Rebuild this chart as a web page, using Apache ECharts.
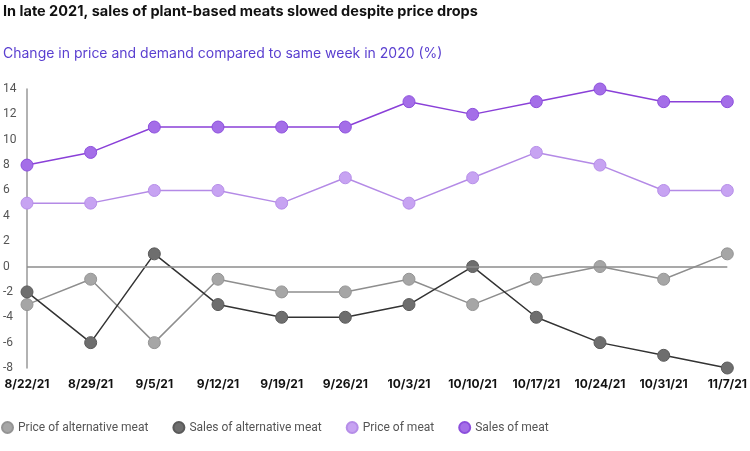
<!DOCTYPE html>
<html>
<head>
<meta charset="utf-8">
<script src="https://cdn.jsdelivr.net/npm/echarts@6/dist/echarts.min.js"></script>
<style>
  html, body { margin: 0; padding: 0; background: #fff; }
  #main { width: 750px; height: 451px; }
</style>
</head>
<body>
<div id="main"></div>
<script>
var weeks = ['8/22/21', '8/29/21', '9/5/21', '9/12/21', '9/19/21', '9/26/21', '10/3/21', '10/10/21', '10/17/21', '10/24/21', '10/31/21', '11/7/21'];
var priceAlt = [-3, -1, -6, -1, -2, -2, -1, -3, -1, 0, -1, 1];
var salesAlt = [-2, -6, 1, -3, -4, -4, -3, 0, -4, -6, -7, -8];
var priceMeat = [5, 5, 6, 6, 5, 7, 5, 7, 9, 8, 6, 6];
var salesMeat = [8, 9, 11, 11, 11, 11, 13, 12, 13, 14, 13, 13];

var myChart = echarts.init(document.getElementById('main'));

// one line series per measure
function line(name, data, fill, border, stroke) {
    return {
        name: name,
        type: 'line',
        data: data,
        symbol: 'circle',
        symbolSize: 12,
        itemStyle: { color: fill, borderColor: border, borderWidth: 1 },
        lineStyle: { color: stroke, width: 1.5 },
        emphasis: { disabled: true }
    };
}

var series = [
    line('Price of alternative meat', priceAlt, '#a6a6a6', '#949494', '#8e8e8e'),
    line('Sales of alternative meat', salesAlt, '#6e6e6e', '#5a5a5a', '#333333'),
    line('Price of meat', priceMeat, '#c7a3f2', '#b68ee8', '#b48ae6'),
    line('Sales of meat', salesMeat, '#a46ee8', '#8c4fdc', '#8a40d8')
];
// zero line
series[0].markLine = {
    silent: true,
    symbol: 'none',
    label: { show: false },
    lineStyle: { color: '#8c8c8c', type: 'solid', width: 1.5 },
    data: [{ yAxis: 0 }]
};

var option = {
    animation: false,
    textStyle: { fontFamily: 'Roboto' },
    title: [{
        text: 'In late 2021, sales of plant-based meats slowed despite price drops',
        left: 3, top: 4, padding: 0,
        textStyle: { fontFamily: 'Inter', fontSize: 14.5, fontWeight: 'bold', color: '#111' }
    }, {
        text: 'Change in price and demand compared to same week in 2020 (%)',
        left: 3, top: 47, padding: 0,
        textStyle: { fontFamily: 'Inter', fontSize: 14, fontWeight: 'normal', color: '#5a3fd0' }
    }],
    legend: {
        left: 1, top: 421, padding: 0,
        icon: 'circle',
        itemWidth: 11, itemHeight: 11,
        itemGap: 24,
        textStyle: { fontSize: 12, color: '#555', fontFamily: 'Roboto' },
        data: ['Price of alternative meat', 'Sales of alternative meat', 'Price of meat', 'Sales of meat']
    },
    grid: { left: 26, right: 20, top: 89, bottom: 83 },
    xAxis: {
        type: 'category',
        data: weeks,
        boundaryGap: false,
        axisLine: { show: false },
        axisTick: { show: false },
        axisLabel: { interval: 0, margin: 10, fontSize: 12, fontWeight: 'bold', color: '#111', fontFamily: 'Inter' }
    },
    yAxis: {
        type: 'value',
        min: -8, max: 14, interval: 2,
        axisLine: { show: true, lineStyle: { color: '#999', width: 1.5 } },
        axisTick: { show: false },
        splitLine: { show: false },
        axisLabel: { align: 'left', margin: 24, fontSize: 12, color: '#555' }
    },
    series: series
};
myChart.setOption(option);
</script>
</body>
</html>
